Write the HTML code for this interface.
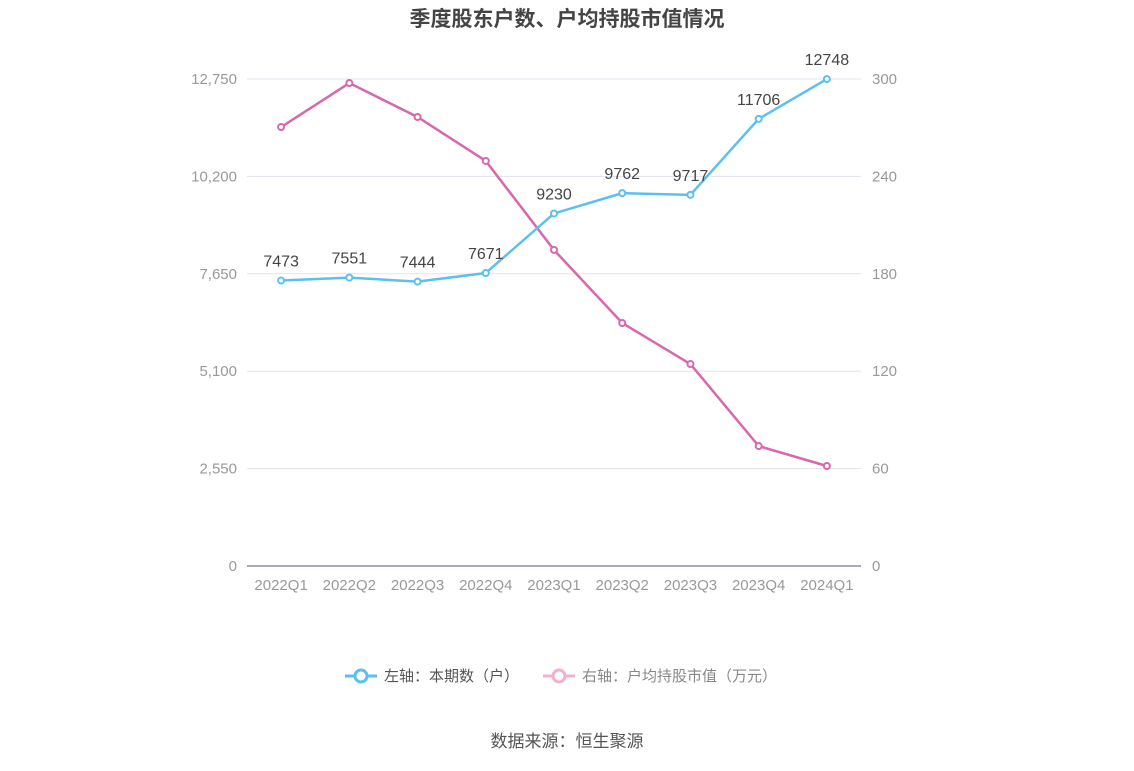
<!DOCTYPE html>
<html><head><meta charset="utf-8">
<style>
body{margin:0;background:#fff;width:1134px;height:766px;overflow:hidden;font-family:"Liberation Sans","Noto Sans CJK SC",sans-serif;}
</style></head>
<body>
<svg width="1134" height="766" xmlns="http://www.w3.org/2000/svg" style="font-family:'Liberation Sans','Noto Sans CJK SC',sans-serif">
<text x="567" y="26" text-anchor="middle" font-size="21" font-weight="bold" fill="#444">季度股东户数、户均持股市值情况</text>
<g id="grid"></g><g id="axes"></g><g id="series"></g>
<g>
<g>
<line x1="345" y1="676" x2="377" y2="676" stroke="#5bc0f0" stroke-width="3"/>
<circle cx="361" cy="676" r="6" fill="#fff" stroke="#5bc0f0" stroke-width="3"/>
<text x="384" y="681" font-size="15" fill="#555">左轴：本期数（户）</text></g>
<g>
<line x1="543" y1="676" x2="575" y2="676" stroke="#f0b0d4" stroke-width="3"/>
<circle cx="559" cy="676" r="6" fill="#fff" stroke="#f0b0d4" stroke-width="3"/>
<text x="582" y="681" font-size="15" fill="#888">右轴：户均持股市值（万元）</text></g>
</g>
<text x="567" y="747" text-anchor="middle" font-size="17" fill="#555">数据来源：恒生聚源</text>
</svg>
<script>
const categories=["2022Q1","2022Q2","2022Q3","2022Q4","2023Q1","2023Q2","2023Q3","2023Q4","2024Q1"];
const holders=[7473,7551,7444,7671,9230,9762,9717,11706,12748];
const avgValue=[270.4,297.5,276.6,249.5,194.7,149.7,124.4,73.9,61.6];
const leftTicks=[0,2550,5100,7650,10200,12750];
const leftTickLabels=["0","2,550","5,100","7,650","10,200","12,750"];
const rightTicks=[0,60,120,180,240,300];
const NS="http://www.w3.org/2000/svg";
const x0=247,x1=861,yB=566,yT=79;
const step=(x1-x0)/categories.length;
const xS=i=>x0+step*(i+0.5);
const yL=v=>yB-(v/12750)*(yB-yT);
const yR=v=>yB-(v/300)*(yB-yT);
function mk(tag,attrs,parent,text){const e=document.createElementNS(NS,tag);for(const k in attrs)e.setAttribute(k,attrs[k]);if(text!==undefined)e.textContent=text;parent.appendChild(e);return e;}
const grid=document.getElementById('grid'),axes=document.getElementById('axes'),ser=document.getElementById('series');
leftTicks.forEach((t,i)=>{const y=yL(t);
 if(t>0){const l=mk('line',{x1:x0,x2:x1,y1:y,y2:y,stroke:'#e3e3ef','stroke-width':1},grid);
 
 }
 const a=mk('text',{x:237,y:y+5,'text-anchor':'end','font-size':15,fill:'#999'},axes,leftTickLabels[i]);
 
 });
rightTicks.forEach(t=>{const b=mk('text',{x:872,y:yR(t)+5,'font-size':15,fill:'#999'},axes,String(t));
 
 });
const ax=mk('line',{x1:x0,x2:x1,y1:yB,y2:yB,stroke:'#8d8da0','stroke-width':1.5},axes);


categories.forEach((c,i)=>{const t=mk('text',{x:xS(i),y:590,'text-anchor':'middle','font-size':15,fill:'#999'},axes,c);
 
 });
function line(vals,ys,color,name,labels){
 const p=mk('polyline',{points:vals.map((v,i)=>xS(i)+','+ys(v)).join(' '),fill:'none',stroke:color,'stroke-width':2.5},ser);
 
 
 vals.forEach((v,i)=>{const c=mk('circle',{cx:xS(i),cy:ys(v),r:3,fill:'#fff',stroke:color,'stroke-width':2},ser);
  
  
  if(labels){const t=mk('text',{x:xS(i),y:ys(v)-14,'text-anchor':'middle','font-size':16,fill:'#444'},ser,String(v));
  
  }});
}
line(avgValue,yR,'#d868ac','avg-value',false);
line(holders,yL,'#5bc0f0','holders',true);
</script>
</body></html>
